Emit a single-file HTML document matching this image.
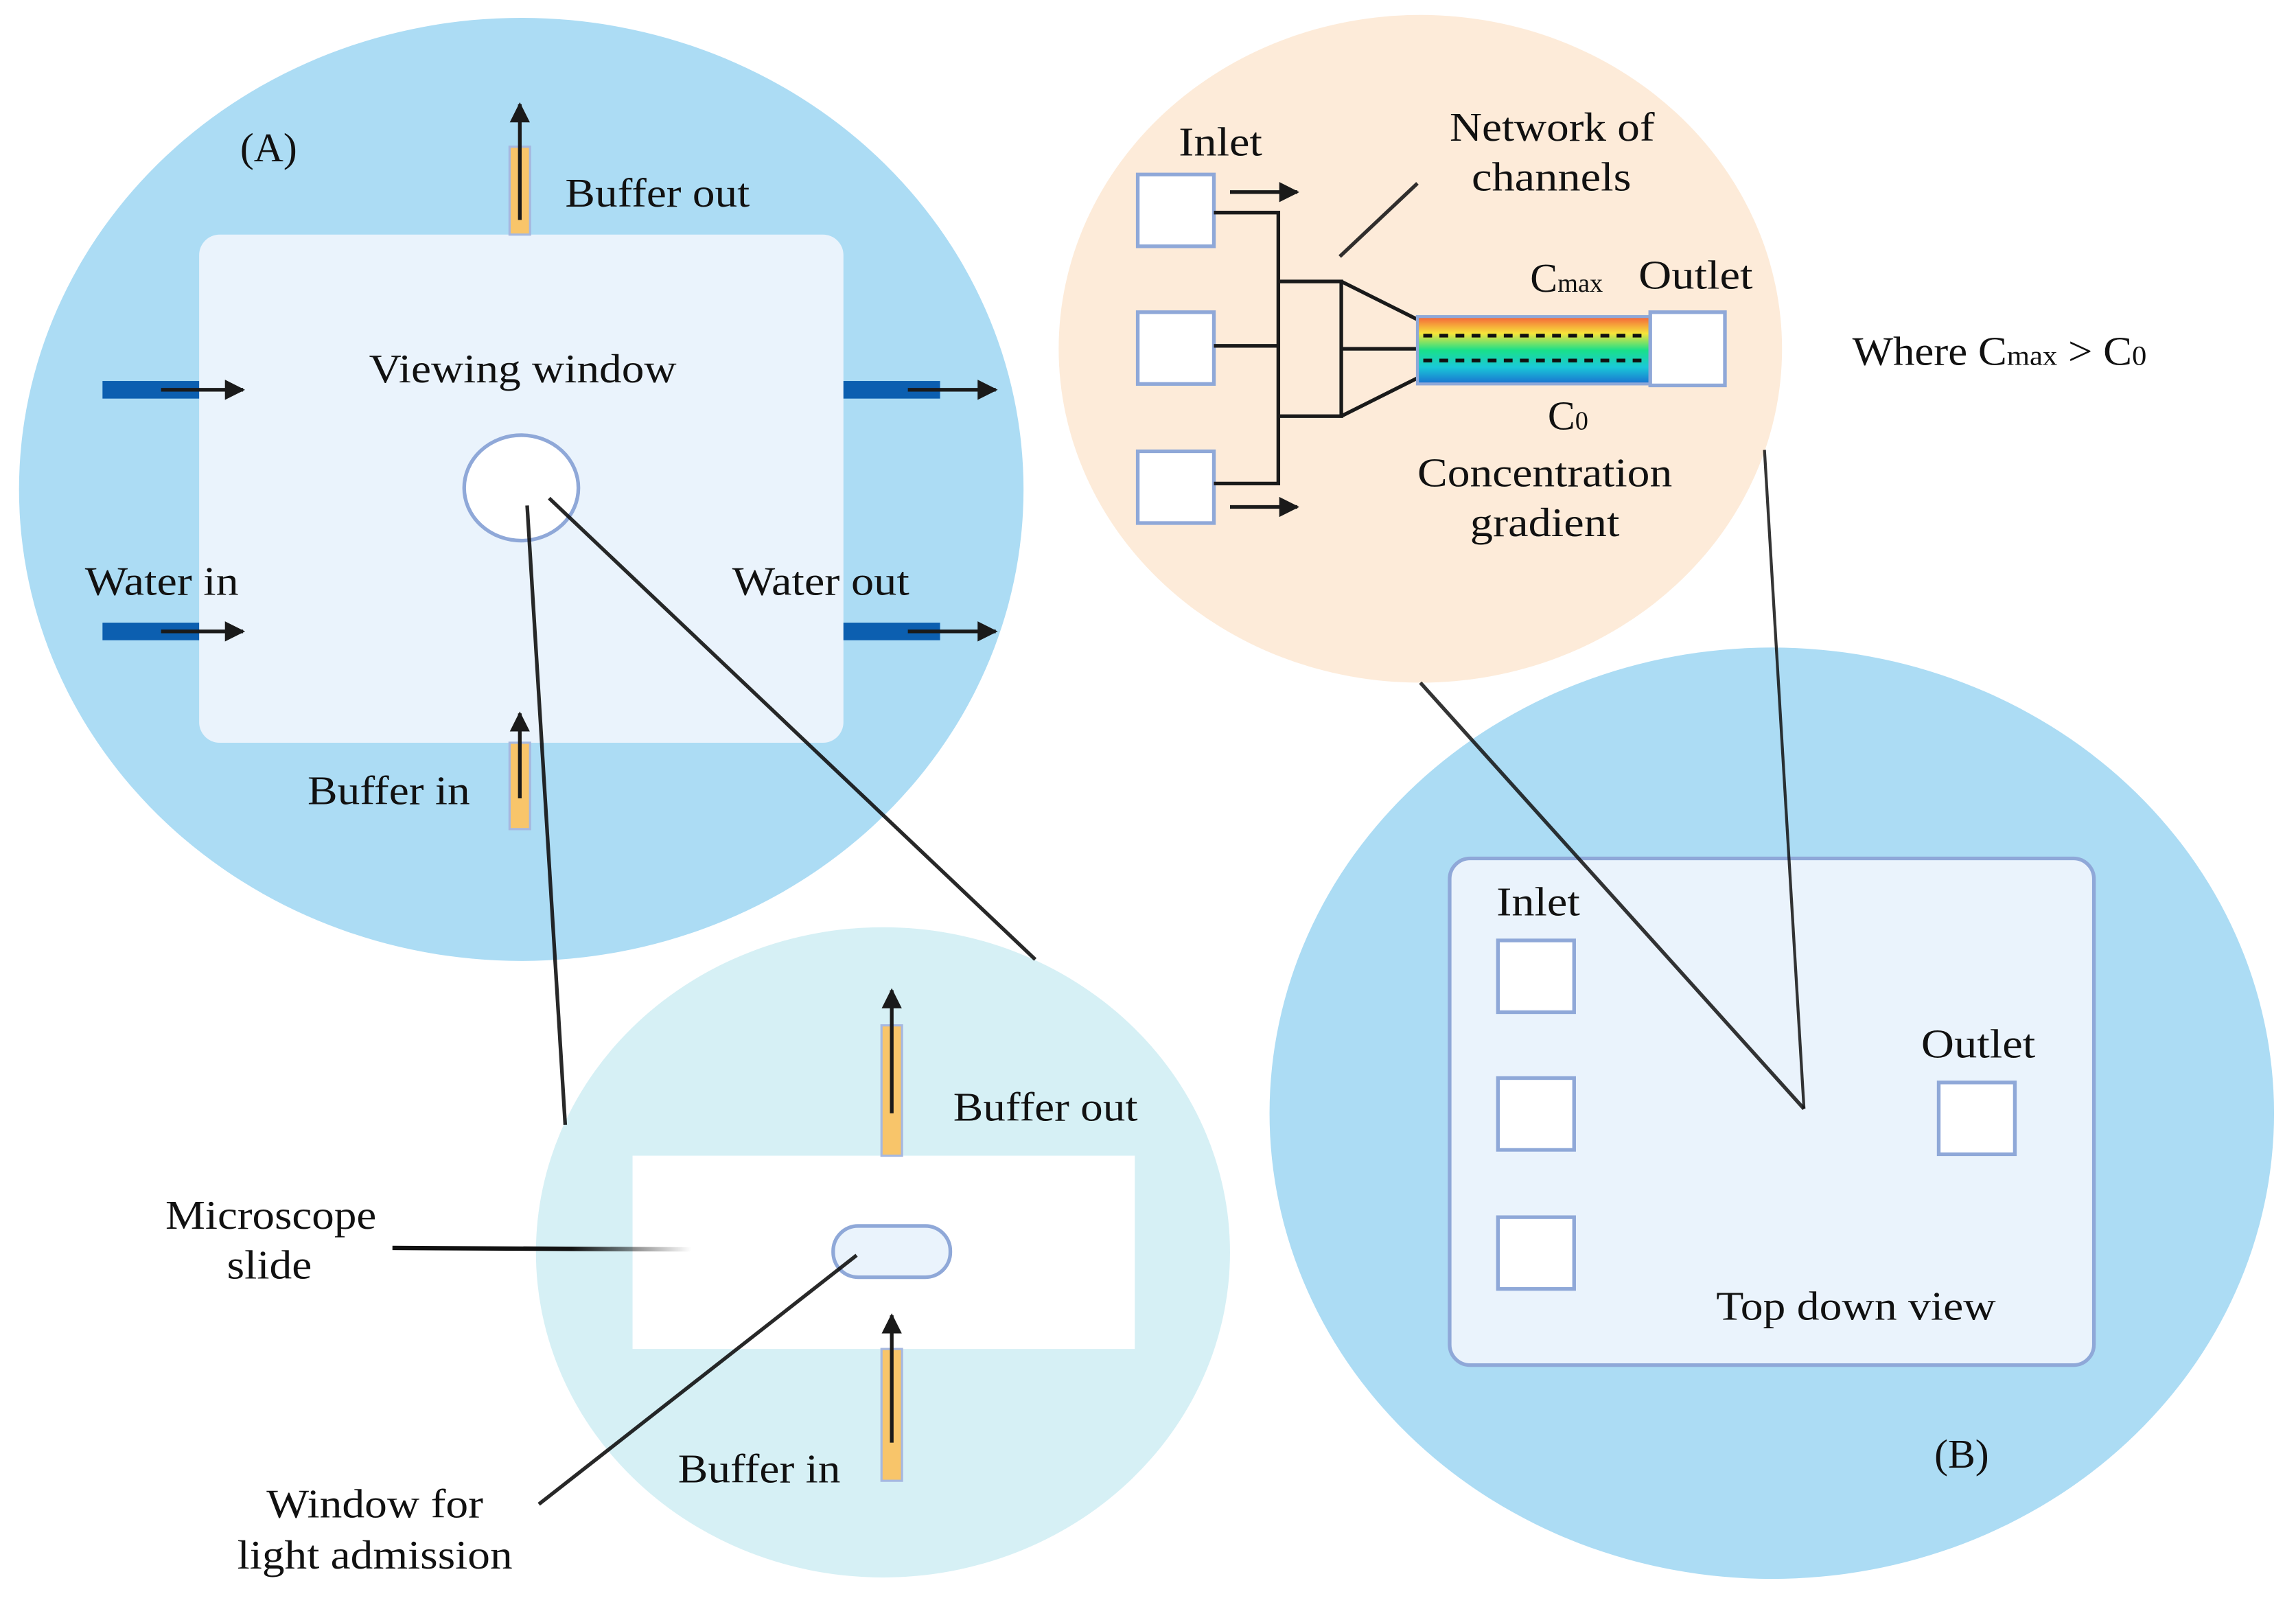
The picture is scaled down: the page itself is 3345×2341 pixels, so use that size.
<!DOCTYPE html>
<html><head><meta charset="utf-8"><style>
html,body{margin:0;padding:0;background:#fff}
svg{display:block}
text{font-family:"Liberation Serif",serif;fill:#111}
</style></head><body>
<svg width="3345" height="2341" viewBox="0 0 1568 1097" xmlns="http://www.w3.org/2000/svg">
<defs>
<marker id="ah" viewBox="0 0 10 10" refX="9" refY="5" markerWidth="5.5" markerHeight="5.5" orient="auto-start-reverse" markerUnits="strokeWidth">
<path d="M0,0 L10,5 L0,10 z" fill="#1a1a1a"/></marker>
<linearGradient id="grad" x1="0" y1="0" x2="0" y2="1">
<stop offset="0" stop-color="#f4603a"/><stop offset="0.25" stop-color="#f7e43a"/>
<stop offset="0.5" stop-color="#19e08a"/><stop offset="0.75" stop-color="#1ac8d8"/>
<stop offset="1" stop-color="#1a70d0"/></linearGradient>
<linearGradient id="fadeL" x1="0" y1="0" x2="1" y2="0"><stop offset="0" stop-color="#111"/><stop offset="0.6" stop-color="#111"/><stop offset="1" stop-color="#111" stop-opacity="0"/></linearGradient>
</defs>

<ellipse cx="356" cy="334" rx="343" ry="322" fill="#acdcf4"/>
<rect x="136" y="160" width="440" height="347" rx="14" fill="#eaf3fc"/>
<rect x="70" y="260" width="66" height="12" fill="#0c5fb0"/>
<rect x="70" y="425" width="66" height="12" fill="#0c5fb0"/>
<rect x="576" y="260" width="66" height="12" fill="#0c5fb0"/>
<rect x="576" y="425" width="66" height="12" fill="#0c5fb0"/>
<g stroke="#1a1a1a" stroke-width="2.5" marker-end="url(#ah)">
<line x1="110" y1="266" x2="166" y2="266"/>
<line x1="110" y1="431" x2="166" y2="431"/>
<line x1="620" y1="266" x2="680" y2="266"/>
<line x1="620" y1="431" x2="680" y2="431"/>
</g>
<rect x="348" y="100" width="14" height="60" fill="#f8c56a" stroke="#a6b8e0" stroke-width="1.5"/>
<rect x="348" y="507" width="14" height="59" fill="#f8c56a" stroke="#a6b8e0" stroke-width="1.5"/>
<g stroke="#1a1a1a" stroke-width="2.5" marker-end="url(#ah)">
<line x1="355" y1="150" x2="355" y2="71"/>
<line x1="355" y1="545" x2="355" y2="487"/>
</g>
<ellipse cx="356" cy="333" rx="39" ry="36" fill="#fff" stroke="#8fa8d8" stroke-width="2.5"/>
<text x="164" y="110" font-size="28">(A)</text>
<text x="386" y="141" font-size="28" textLength="126" lengthAdjust="spacingAndGlyphs">Buffer out</text>
<text x="252" y="261" font-size="28" textLength="210" lengthAdjust="spacingAndGlyphs">Viewing window</text>
<text x="58" y="406" font-size="28" textLength="105" lengthAdjust="spacingAndGlyphs">Water in</text>
<text x="500" y="406" font-size="28" textLength="121" lengthAdjust="spacingAndGlyphs">Water out</text>
<text x="210" y="549" font-size="28" textLength="111" lengthAdjust="spacingAndGlyphs">Buffer in</text>

<ellipse cx="603" cy="855" rx="237" ry="222" fill="#d6f0f5"/>
<rect x="432" y="789" width="343" height="132" fill="#fff"/>
<rect x="602" y="700" width="14" height="89" fill="#f8c56a" stroke="#a6b8e0" stroke-width="1.5"/>
<rect x="602" y="921" width="14" height="90" fill="#f8c56a" stroke="#a6b8e0" stroke-width="1.5"/>
<g stroke="#1a1a1a" stroke-width="2.5" marker-end="url(#ah)">
<line x1="609" y1="760" x2="609" y2="676"/>
<line x1="609" y1="985" x2="609" y2="898"/>
</g>
<rect x="569" y="837" width="80" height="35" rx="17" fill="#eaf3fc" stroke="#8fa8d8" stroke-width="2.5"/>
<text x="651" y="765" font-size="28" textLength="126" lengthAdjust="spacingAndGlyphs">Buffer out</text>
<text x="113" y="839" font-size="28" textLength="144" lengthAdjust="spacingAndGlyphs">Microscope</text>
<text x="155" y="873" font-size="28" textLength="58" lengthAdjust="spacingAndGlyphs">slide</text>
<text x="182" y="1036" font-size="28" textLength="148" lengthAdjust="spacingAndGlyphs">Window for</text>
<text x="162" y="1071" font-size="28" textLength="188" lengthAdjust="spacingAndGlyphs">light admission</text>
<text x="463" y="1012" font-size="28" textLength="111" lengthAdjust="spacingAndGlyphs">Buffer in</text>
<line x1="268" y1="852" x2="472" y2="853" stroke="url(#fadeL)" stroke-width="3"/>
<line x1="368" y1="1027" x2="585" y2="857" stroke="#111" stroke-width="2.5" opacity="0.9"/>

<line x1="360" y1="345" x2="386" y2="768" stroke="#111" stroke-width="2.5" opacity="0.9"/>
<line x1="375" y1="340" x2="707" y2="655" stroke="#111" stroke-width="2.5" opacity="0.9"/>

<ellipse cx="1210" cy="760" rx="343" ry="318" fill="#acdcf4"/>
<rect x="990" y="586" width="440" height="346" rx="14" fill="#eaf3fc" stroke="#8fa8d8" stroke-width="2.5"/>
<g fill="#fff" stroke="#8fa8d8" stroke-width="2.5">
<rect x="1023" y="642" width="52" height="49"/>
<rect x="1023" y="736" width="52" height="49"/>
<rect x="1023" y="831" width="52" height="49"/>
<rect x="1324" y="739" width="52" height="49"/>
</g>
<text x="1022" y="625" font-size="28" textLength="57" lengthAdjust="spacingAndGlyphs">Inlet</text>
<text x="1312" y="722" font-size="28" textLength="78" lengthAdjust="spacingAndGlyphs">Outlet</text>
<text x="1172" y="901" font-size="28" textLength="191" lengthAdjust="spacingAndGlyphs">Top down view</text>
<text x="1321" y="1002" font-size="28">(B)</text>

<ellipse cx="970" cy="238" rx="247" ry="228" fill="#fdebd9"/>
<g fill="#fff" stroke="#8fa8d8" stroke-width="2.5">
<rect x="777" y="119" width="52" height="49"/>
<rect x="777" y="213" width="52" height="49"/>
<rect x="777" y="308" width="52" height="49"/>
</g>
<g stroke="#1a1a1a" stroke-width="2.5" fill="none">
<polyline points="829,145 873,145 873,330 829,330"/>
<line x1="829" y1="236" x2="873" y2="236"/>
<polyline points="873,192 916,192 916,284 873,284"/>
<line x1="916" y1="192" x2="968" y2="218"/>
<line x1="916" y1="238" x2="968" y2="238"/>
<line x1="916" y1="284" x2="968" y2="258"/>
<line x1="915" y1="175" x2="968" y2="125" opacity="0.9"/>
</g>
<g stroke="#1a1a1a" stroke-width="2.5" marker-end="url(#ah)">
<line x1="840" y1="131" x2="886" y2="131"/>
<line x1="840" y1="346" x2="886" y2="346"/>
</g>
<rect x="968" y="216" width="159" height="46" fill="url(#grad)" stroke="#8fa8d8" stroke-width="2"/>
<line x1="972" y1="229" x2="1124" y2="229" stroke="#111" stroke-width="2.5" stroke-dasharray="6,5"/>
<line x1="972" y1="246" x2="1124" y2="246" stroke="#111" stroke-width="2.5" stroke-dasharray="6,5"/>
<rect x="1127" y="213" width="51" height="50" fill="#fff" stroke="#8fa8d8" stroke-width="2.5"/>
<text x="805" y="106" font-size="28" textLength="57" lengthAdjust="spacingAndGlyphs">Inlet</text>
<text x="990" y="96" font-size="28" textLength="140" lengthAdjust="spacingAndGlyphs">Network of</text>
<text x="1005" y="130" font-size="28" textLength="109" lengthAdjust="spacingAndGlyphs">channels</text>
<text x="1045" y="199" font-size="28">C<tspan font-size="18">max</tspan></text>
<text x="1119" y="197" font-size="28" textLength="78" lengthAdjust="spacingAndGlyphs">Outlet</text>
<text x="1057" y="293" font-size="28">C<tspan font-size="18">0</tspan></text>
<text x="968" y="332" font-size="28" textLength="174" lengthAdjust="spacingAndGlyphs">Concentration</text>
<text x="1004" y="366" font-size="28" textLength="102" lengthAdjust="spacingAndGlyphs">gradient</text>
<text x="1265" y="249" font-size="28" textLength="201" lengthAdjust="spacingAndGlyphs">Where C<tspan font-size="19">max</tspan> &gt; C<tspan font-size="19">0</tspan></text>

<line x1="970" y1="466" x2="1232" y2="757" stroke="#111" stroke-width="2.5" opacity="0.85"/>
<line x1="1205" y1="307" x2="1232" y2="757" stroke="#111" stroke-width="2" opacity="0.85"/>
</svg>
</body></html>
